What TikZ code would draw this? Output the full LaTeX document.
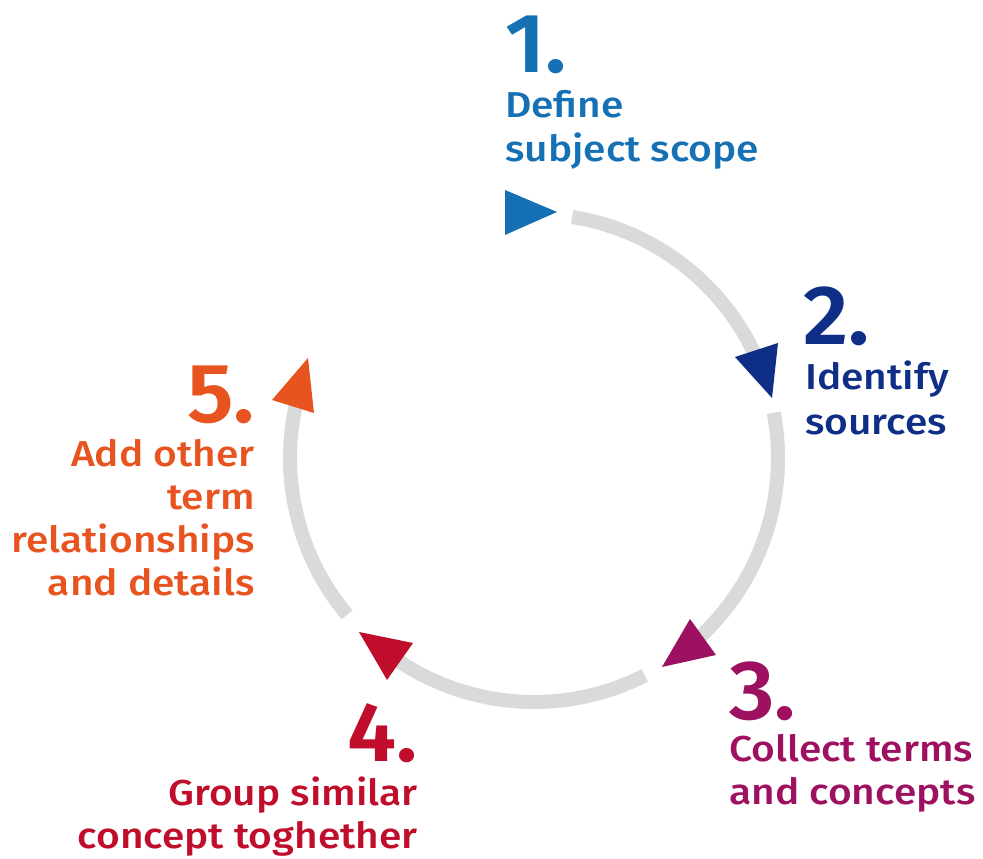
\documentclass[tikz,border=0pt]{standalone}
\usepackage{fontspec}
\setmainfont{Fira Sans}
\newfontfamily\medfont[FakeStretch=1.13]{Fira Sans Medium}
\newfontfamily\numfont[FakeStretch=1.05]{Fira Sans SemiBold}
\definecolor{cone}{HTML}{1570B4}
\definecolor{ctwo}{HTML}{0F2F87}
\definecolor{cthree}{HTML}{9E1160}
\definecolor{cfour}{HTML}{C00D2B}
\definecolor{cfive}{HTML}{E85420}
\definecolor{ringgray}{HTML}{D9DADC}
\tikzset{
  ring/.style={draw=ringgray, line width=14pt, line cap=butt},
  numlbl/.style={inner sep=0pt, font=\numfont\fontsize{84}{84}\selectfont},
  txtlbl/.style={inner sep=0pt, font=\medfont\fontsize{36}{43}\selectfont},
}
\begin{document}
\begin{tikzpicture}[x=1pt,y=1pt]
\useasboundingbox (0,0) rectangle (983,859);
\fill[white] (0,0) rectangle (983,859);
\coordinate (C) at (534,401);
% ring segments
\draw[ring] (C) ++(81:244) arc[start angle=81, end angle=22, radius=244];
\draw[ring] (C) ++(10.7:244) arc[start angle=10.7, end angle=-50.6, radius=244];
\draw[ring] (C) ++(-63:244) arc[start angle=-63, end angle=-127.3, radius=244];
\draw[ring] (C) ++(-140:244) arc[start angle=-140, end angle=-196, radius=244];
% arrowheads
\fill[cone] (505,669) -- (505,624) -- (557,647) -- cycle;
\fill[ctwo] (735,502) -- (778,516) -- (772,461) -- cycle;
\fill[cthree] (690,240) -- (716,204) -- (662,192) -- cycle;
\fill[cfour] (359,227) -- (413,216) -- (387,179) -- cycle;
\fill[cfive] (308,501) -- (272,459) -- (314,446) -- cycle;
% step 1
\node[numlbl, text=cone, anchor=base west] (n1) at (505,786) {1.};
\node[txtlbl, text=cone, anchor=base west] (t1a) at (505,741) {Define};
\node[txtlbl, text=cone, anchor=base west] (t1b) at (505,697) {subject scope};
% step 2
\node[numlbl, text=ctwo, anchor=base west] (n2) at (803,514) {2.};
\node[txtlbl, text=ctwo, anchor=base west] (t2a) at (805,469) {Identify};
\node[txtlbl, text=ctwo, anchor=base west] (t2b) at (805,424) {sources};
% step 3
\node[numlbl, text=cthree, anchor=base west] (n3) at (729,139) {3.};
\node[txtlbl, text=cthree, anchor=base west] (t3a) at (729,97) {Collect terms};
\node[txtlbl, text=cthree, anchor=base west] (t3b) at (729,54) {and concepts};
% step 4
\node[numlbl, text=cfour, anchor=base east] (n4) at (418,97) {4.};
\node[txtlbl, text=cfour, anchor=base east] (t4a) at (418,53) {Group similar};
\node[txtlbl, text=cfour, anchor=base east] (t4b) at (418,10) {concept toghether};
% step 5
\node[numlbl, text=cfive, anchor=base east] (n5) at (255,436) {5.};
\node[txtlbl, text=cfive, anchor=base east] (t5a) at (255,392) {Add other};
\node[txtlbl, text=cfive, anchor=base east] (t5b) at (255,349) {term};
\node[txtlbl, text=cfive, anchor=base east] (t5c) at (255,306) {relationships};
\node[txtlbl, text=cfive, anchor=base east] (t5d) at (255,263) {and details};
\end{tikzpicture}
\end{document}
